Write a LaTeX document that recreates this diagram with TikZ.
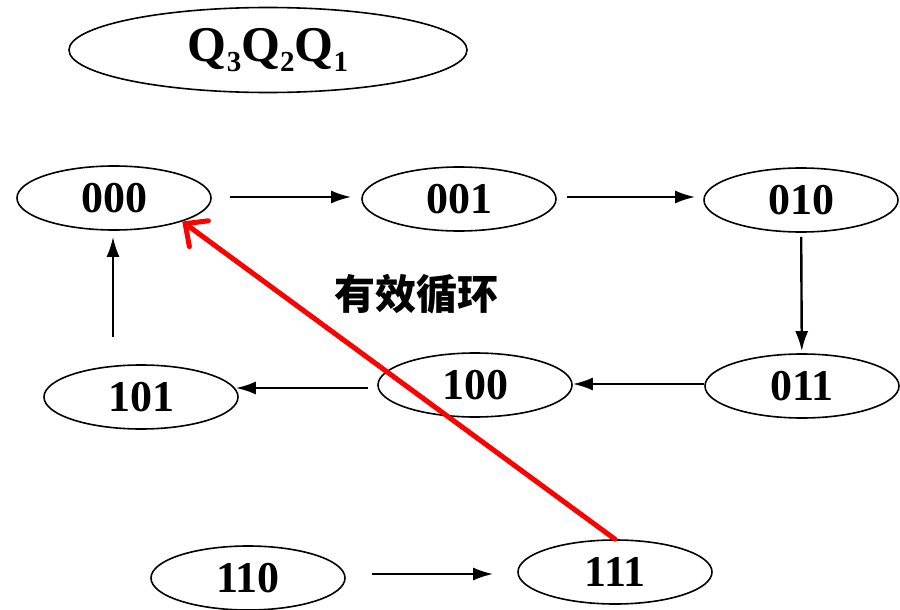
\documentclass[tikz,border=0pt]{standalone}
\usepackage{fontspec}
\setmainfont{Liberation Serif}
\newfontfamily\cjk{Noto Sans CJK SC}
\usetikzlibrary{shapes.geometric,arrows.meta}
\newcommand{\qsub}[1]{\raisebox{-0.2em}{\fontsize{29}{29}\selectfont\bfseries #1}}
\tikzset{
  st/.style={ellipse, draw, line width=1.6pt, minimum width=194pt, minimum height=64pt, inner sep=0pt,
    font=\fontsize{44}{44}\selectfont\bfseries},
  arr/.style={line width=2.4pt, -{Latex[length=20pt,width=13pt]}},
  redarr/.style={draw=red, line width=5pt, line cap=round, -{Straight Barb[length=17pt,width=32pt,line cap=round]}},
}
\begin{document}
\begin{tikzpicture}[x=1pt,y=-1pt]
\useasboundingbox (0,0) rectangle (900,610);
\node[ellipse, draw, line width=1.6pt, minimum width=398pt, minimum height=85pt, inner sep=0pt,
  font=\fontsize{50}{50}\selectfont\bfseries] (title) at (268,50) {Q\qsub{3}Q\qsub{2}Q\qsub{1}};
\node[st] (s000) at (114,198) {000};
\node[st] (s001) at (459,199) {001};
\node[st] (s010) at (801,200) {010};
\node[st] (s011) at (802,386) {011};
\node[st] (s100) at (475,385) {100};
\node[st] (s101) at (141,397) {101};
\node[st] (s110) at (248,578) {110};
\node[st] (s111) at (615,572) {111};
\node[font=\cjk\bfseries\fontsize{41}{41}\selectfont] (lab) at (416,294) {有效循环};
% horizontal connectors
\coordinate (a1) at ([xshift=18pt,yshift=1pt]s000.east);
\draw[arr, shorten >=10pt] (a1) -- (a1 -| s001.west);
\coordinate (a2) at ([xshift=10pt,yshift=2pt]s001.east);
\draw[arr, shorten >=8pt] (a2) -- (a2 -| s010.west);
\draw[arr, shorten <=4pt, shorten >=2pt] (s010) -- (s011);
\coordinate (a4) at ([yshift=2pt]s011.west);
\draw[arr] (a4) -- (a4 -| s100.east);
\coordinate (a5) at ([xshift=-9pt,yshift=-3pt]s100.west);
\draw[arr, shorten >=-3pt] (a5) -- (a5 -| s101.east);
\coordinate (c101) at (113,337);
\draw[arr, shorten >=6pt] (c101) -- (s000.south -| c101);
\coordinate (a7) at ([xshift=26pt,yshift=4pt]s110.east);
\draw[arr, shorten >=24pt] (a7) -- (a7 -| s111.west);
\draw[redarr] (s111.north) -- (s000.-19);
\end{tikzpicture}
\end{document}
